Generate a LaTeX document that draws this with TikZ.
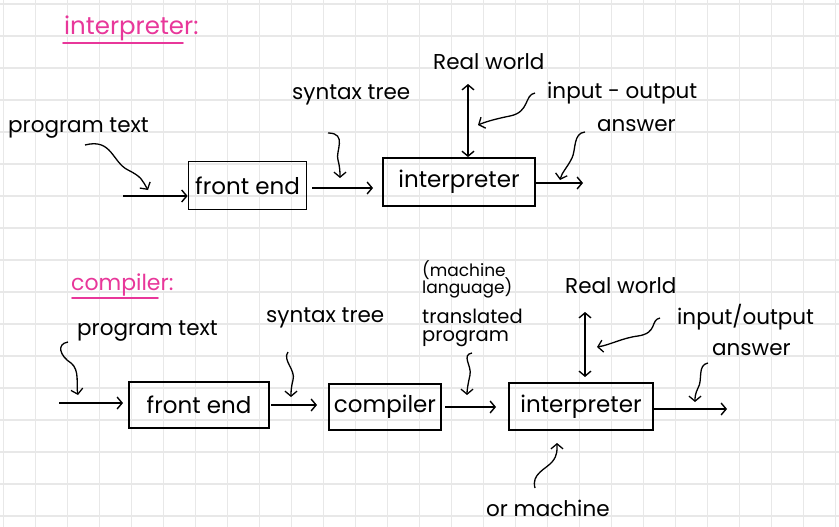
\documentclass[tikz,border=0pt]{standalone}
\usepackage{fontspec}
\setmainfont{Poppins}
\usetikzlibrary{arrows.meta}
\definecolor{gridc}{HTML}{E8E8E8}
\definecolor{pinkc}{HTML}{E8379A}
\tikzset{
  arr/.style={line width=1.4pt,-{Straight Barb[length=5pt,width=12pt,line width=1.4pt]}},
  darr/.style={line width=1.4pt,{Straight Barb[length=5pt,width=12pt,line width=1.4pt]}-{Straight Barb[length=5pt,width=12pt,line width=1.4pt]}},
  sq/.style={line width=1.3pt,-{Straight Barb[length=5pt,width=12pt,line width=1.3pt]}},
  boxn/.style={draw,line width=1.8pt,inner sep=0pt,font=\fontsize{23}{24}\selectfont},
  lbl/.style={inner sep=0pt,font=\fontsize{21.5}{22}\selectfont,align=left},
  small/.style={inner sep=0pt,font=\fontsize{17}{17}\selectfont},
  mid/.style={inner sep=0pt,font=\fontsize{19.5}{20}\selectfont},
  ttl/.style={inner sep=0pt,text=pinkc},
  uline/.style={pinkc,line width=1.6pt,line cap=round}
}
\begin{document}
\begin{tikzpicture}[x=1pt,y=-1pt]
\useasboundingbox (0,0) rectangle (839,527);
\fill[white] (0,0) rectangle (839,527);
\foreach \i in {0,...,26} {\draw[gridc,line width=1.2pt] (3.5+32*\i,0) -- (3.5+32*\i,527);}
\foreach \j in {0,...,16} {\draw[gridc,line width=1.2pt] (0,4+32*\j) -- (839,4+32*\j);}

% ---------- interpreter ----------
\node[ttl,anchor=west,font=\fontsize{24.5}{25}\selectfont] (t1) at (64,28) {interpreter:};
\draw[uline] (63,43) -- (183,43);

\node[boxn,minimum width=118pt,minimum height=48pt] (fe1) at (247.5,185.5) {front end};
\node[boxn,minimum width=152pt,minimum height=48pt] (in1) at (459,182) {interpreter};

\node[lbl,anchor=west] (pt1) at (8,128) {program text};
\node[lbl,anchor=west] (st1) at (292,95) {syntax tree};
\node[lbl,anchor=west] (rw1) at (433,62) {Real world};
\node[lbl,anchor=west] (io1) at (547,93) {input - output};
\node[lbl,anchor=west] (an1) at (597,126) {answer};

\coordinate (s1) at (123,196);
\coordinate (rwa1) at (468,84);
\coordinate (o1) at (583,183);

\draw[arr] (s1) -- (183,196 -| fe1.west);
\draw[arr] (312,188) -- (373,188);
\draw[darr] (rwa1) -- (rwa1 |- in1.north);
\draw[arr] (in1.east |- o1) -- (o1);

\coordinate (pt1a) at (85,145);
\coordinate (pt1b) at (148,190);
\draw[sq] (pt1a) .. controls (112,138) and (112,162) .. (128,170) .. controls (142,177) and (142,180) .. (pt1b);
\coordinate (st1a) at (328,133);
\coordinate (st1b) at (340,178);
\draw[sq] (st1a) .. controls (348,133) and (335,152) .. (338,160) .. controls (340,168) and (340,172) .. (st1b);
\coordinate (io1a) at (535,93);
\coordinate (io1b) at (478,125);
\draw[sq] (io1a) .. controls (524,95) and (530,112) .. (510,116) .. controls (495,119) and (485,122) .. (io1b);
\coordinate (an1a) at (585,132);
\coordinate (an1b) at (560,180);
\draw[sq] (an1a) .. controls (573,133) and (576,150) .. (572,158) .. controls (567,168) and (562,172) .. (an1b);

% ---------- compiler ----------
\node[ttl,anchor=west,font=\fontsize{22}{23}\selectfont] (t2) at (71,285) {compiler:};
\draw[uline] (72,298) -- (158,298);

\node[boxn,minimum width=140pt,minimum height=46pt] (fe2) at (199,405) {front end};
\node[boxn,minimum width=112pt,minimum height=46pt] (co2) at (385,407) {compiler};
\node[boxn,minimum width=144pt,minimum height=47pt] (in2) at (581,406.5) {interpreter};

\node[lbl,anchor=west] (pt2) at (77,331) {program text};
\node[lbl,anchor=west] (st2) at (266,318) {syntax tree};
\node[small,anchor=west] (ml2a) at (422,270) {(machine};
\node[small,anchor=west] (ml2b) at (422,288) {language)};
\node[mid,anchor=west] (tp2a) at (422,316) {translated};
\node[mid,anchor=west] (tp2b) at (422,339) {program};
\node[lbl,anchor=west] (rw2) at (565,286) {Real world};
\node[lbl,anchor=west] (io2) at (677,317) {input/output};
\node[lbl,anchor=west] (an2) at (712,350) {answer};
\node[lbl,anchor=west] (om2) at (486,508) {or machine};

\coordinate (s2) at (59,403);
\coordinate (rwa2) at (585,312);
\coordinate (o2) at (727,409);

\draw[arr] (s2) -- (123,403);
\draw[arr] (271,405) -- (317,405);
\draw[arr] (445,407) -- (496,407);
\draw[darr] (rwa2) -- (585,377);
\draw[arr] (in2.east |- o2) -- (o2);

\coordinate (pt2a) at (68,342);
\coordinate (pt2b) at (78,395);
\draw[sq] (pt2a) .. controls (56,344) and (60,356) .. (71,363) .. controls (80,370) and (76,385) .. (pt2b);
\coordinate (st2a) at (288,352);
\coordinate (st2b) at (291,397);
\draw[sq] (st2a) .. controls (282,360) and (296,370) .. (293,380) .. controls (291,388) and (291,392) .. (st2b);
\coordinate (tp2c) at (472,353);
\coordinate (tp2d) at (467,395);
\draw[sq] (tp2c) .. controls (461,355) and (472,366) .. (470,375) .. controls (468,384) and (467,390) .. (tp2d);
\coordinate (io2a) at (660,318);
\coordinate (io2b) at (597,347);
\draw[sq] (io2a) .. controls (650,320) and (658,333) .. (638,336) .. controls (622,338) and (610,345) .. (io2b);
\coordinate (an2a) at (708,363);
\coordinate (an2b) at (695,402);
\draw[sq] (an2a) .. controls (697,365) and (703,380) .. (698,388) .. controls (695,394) and (695,398) .. (an2b);
\coordinate (om2a) at (535,488);
\coordinate (om2b) at (557,443);
\draw[sq] (om2a) .. controls (531,474) and (546,469) .. (552,462) .. controls (558,455) and (557,449) .. (om2b);
\end{tikzpicture}
\end{document}
